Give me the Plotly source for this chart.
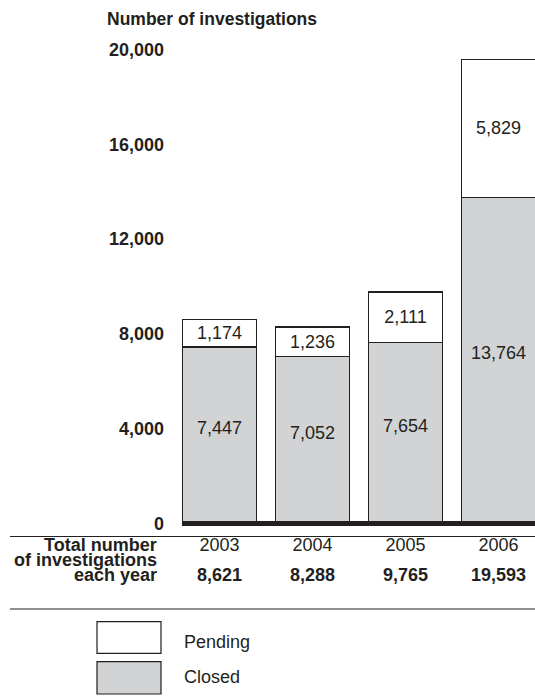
import plotly.graph_objects as go

# ---- data ----
years = ["2003", "2004", "2005", "2006"]
closed = [7447, 7052, 7654, 13764]
pending = [1174, 1236, 2111, 5829]
y_ticks = [0, 4000, 8000, 12000, 16000, 20000]
series_names = ["Pending", "Closed"]

totals = [c + p for c, p in zip(closed, pending)]

INK = "#231f20"
GRAY = "#d1d3d4"
FONT = "Liberation Sans, Arial, Helvetica, sans-serif"

W, H = 535, 698
L, R, T, B = 182, 0, 40, 168
PW, PH = W - L - R, H - T - B


def px(xp):
    return (xp - L) / PW


def py(yp):
    return (H - B - yp) / PH


fig = go.Figure()
fig.add_trace(go.Bar(
    x=years, y=closed, name=series_names[1], width=0.8,
    marker=dict(color=GRAY, line=dict(color=INK, width=1.2)),
))
fig.add_trace(go.Bar(
    x=years, y=pending, name=series_names[0], width=0.8,
    marker=dict(color="white", line=dict(color=INK, width=1.2)),
    text=[f"{v:,}" for v in pending], textposition="inside",
    insidetextanchor="middle", textangle=0,
    textfont=dict(size=18, color=INK, family=FONT),
))

shapes = []
# thick baseline at zero
shapes.append(dict(type="line", xref="paper", yref="y", x0=0, x1=1, y0=0, y1=0,
                   line=dict(color=INK, width=5)))
# table rules
for yp in (536.5, 609):
    shapes.append(dict(type="line", xref="paper", yref="paper", x0=px(10), x1=1,
                       y0=py(yp), y1=py(yp), line=dict(color=INK, width=1.2)))
# legend swatches
for (y0, y1), fill in (((621.7, 653.3), "white"), ((661.7, 694), GRAY)):
    shapes.append(dict(type="rect", xref="paper", yref="paper",
                       x0=px(97), x1=px(161), y0=py(y1), y1=py(y0),
                       fillcolor=fill, line=dict(color=INK, width=1.2)))

ann = []
# closed-segment labels (placed slightly above the segment middle, as in the original)
for i, c in enumerate(closed):
    ann.append(dict(text=f"{c:,}", xref="x", yref="y", x=i, y=c / 2, yshift=7,
                    xanchor="center", yanchor="middle", showarrow=False,
                    font=dict(size=18, color=INK, family=FONT)))
ann.append(dict(text="<b>Number of investigations</b>", xref="paper", yref="paper",
                x=px(105), y=py(18.5), xanchor="left", yanchor="middle",
                showarrow=False, font=dict(size=17.5, color=INK, family=FONT)))
for txt, yp in (("Total number", 545), ("of investigations", 560), ("each year", 574.6)):
    ann.append(dict(text=f"<b>{txt}</b>", xref="paper", yref="paper",
                    x=px(158.5), y=py(yp), xanchor="right", yanchor="middle",
                    showarrow=False, font=dict(size=18, color=INK, family=FONT)))
for i, tot in enumerate(totals):
    ann.append(dict(text=f"<b>{tot:,}</b>", xref="x", yref="paper",
                    x=i, y=py(574.6), xanchor="center", yanchor="middle",
                    showarrow=False, font=dict(size=18, color=INK, family=FONT)))
for name, yp in ((series_names[0], 641.7), (series_names[1], 677)):
    ann.append(dict(text=name, xref="paper", yref="paper",
                    x=px(181.5), y=py(yp), xanchor="left", yanchor="middle",
                    showarrow=False, font=dict(size=18, color=INK, family=FONT)))

fig.update_layout(
    width=W, height=H,
    margin=dict(l=L, r=R, t=T, b=B, pad=0),
    barmode="stack",
    showlegend=False,
    plot_bgcolor="white", paper_bgcolor="white",
    font=dict(family=FONT, color=INK),
    uniformtext=dict(minsize=18, mode="show"),
    shapes=shapes,
    annotations=ann,
    xaxis=dict(type="category", range=[-0.403, 3.392], showgrid=False, zeroline=False,
               showline=False, ticks="", tickfont=dict(size=18, color=INK, family=FONT),
               ticklabelstandoff=2, fixedrange=True),
    yaxis=dict(range=[-274, 20401], showgrid=False, zeroline=False, showline=False,
               ticks="", tickvals=y_ticks,
               ticktext=[f"<b>{v:,}</b>" for v in y_ticks],
               tickfont=dict(size=18, color=INK, family=FONT),
               ticklabelstandoff=17, fixedrange=True),
)

fig.write_html("out.html")
